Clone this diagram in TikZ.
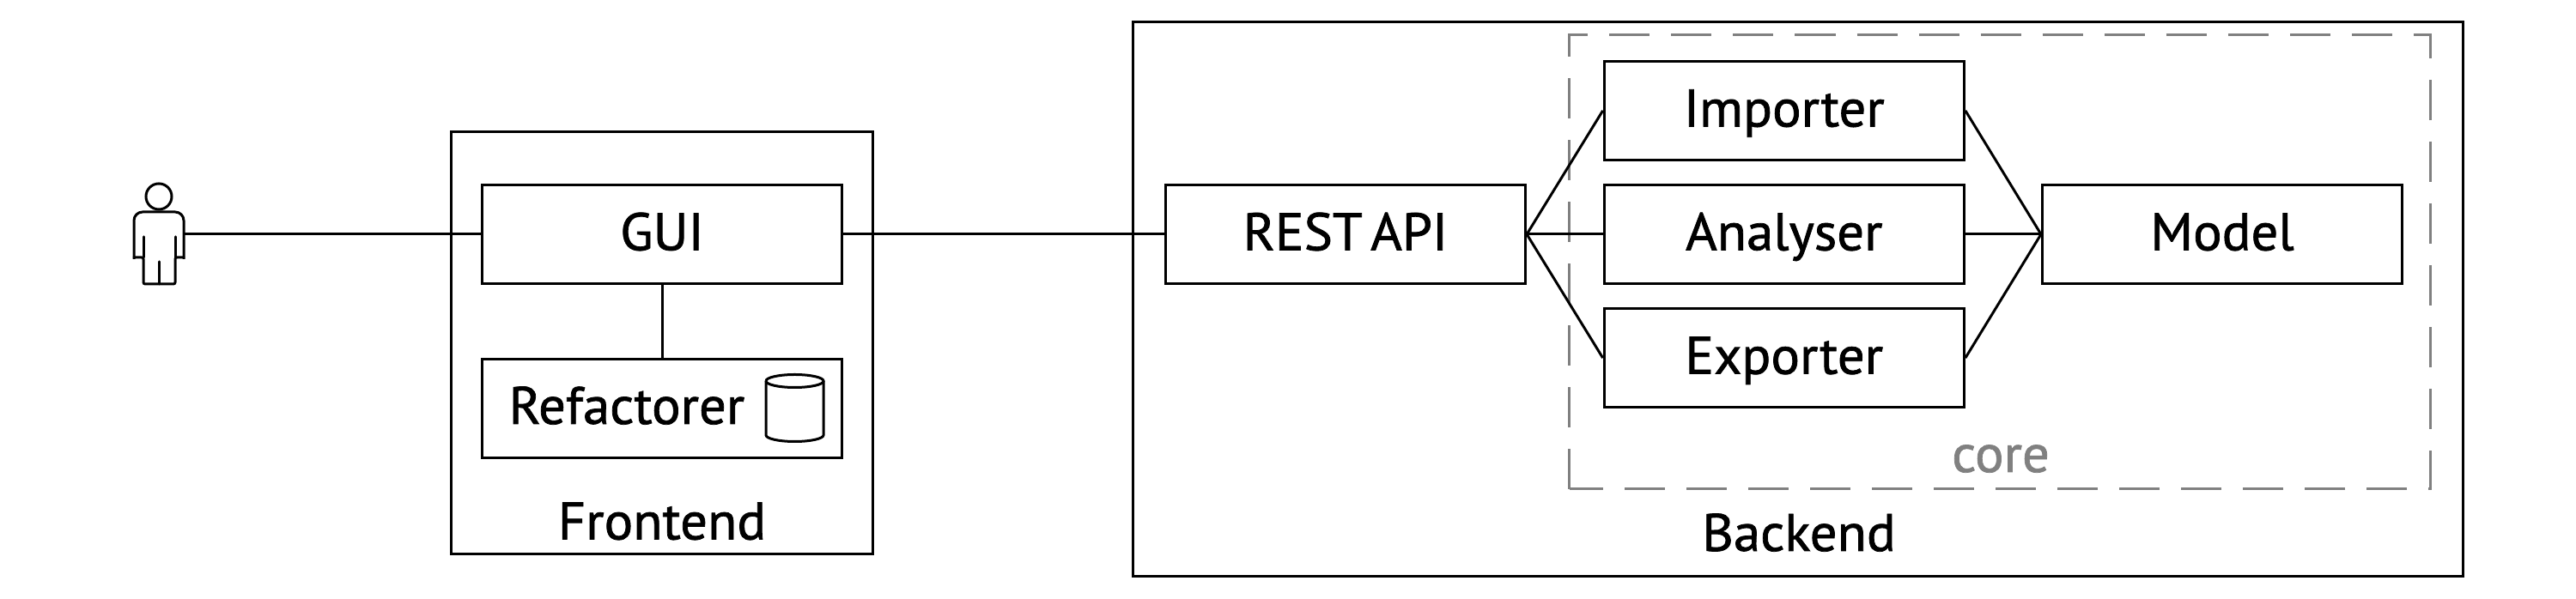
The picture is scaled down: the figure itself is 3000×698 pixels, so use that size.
\documentclass[tikz,border=0pt]{standalone}
\usepackage{fontspec}
\setmainfont[FakeBold=1.2,FakeStretch=1.02]{PT Sans}
\tikzstyle{box} = [draw, line width=0.03cm, minimum width=4.19cm, minimum height=1.15cm, inner sep=0pt, text height=0.37cm, text depth=0pt, font=\fontsize{17.5}{20}\selectfont]
\tikzstyle{caption} = [inner sep=0pt, anchor=base, font=\fontsize{17.5}{20}\selectfont]
\tikzstyle{link} = [line width=0.03cm]

\begin{document}
\begin{tikzpicture}[x=0.01cm, y=0.01cm, line width=0.03cm,
    frame/.style={draw, line width=0.03cm, inner sep=0pt},
    coreline/.style={draw=black!50, line width=0.03cm, dash pattern=on 0.47cm off 0.25cm}]

    \useasboundingbox (0,0) rectangle (3000,-698);

    % Frames
    \node[frame, minimum width=4.9cm, minimum height=4.92cm] (frontend) at (771,-399.5) {};
    \node[frame, minimum width=15.48cm, minimum height=6.45cm] (backend) at (2094,-348.5) {};
    \draw[coreline] (1827.5,-570) rectangle (2830.5,-40.5);

    % Nodes (Boxes)
    \node[box] (gui) at (771,-273) {GUI};
    \node[box] (refactorer) [below of=gui, node distance=2.03cm] {};
    \node[box] (rest) [right of=gui, node distance=7.955cm] {REST\kern-0.12em{} API};
    \node[box] (analyser) [right of=rest, node distance=5.105cm] {Analyser};
    \node[box] (importer) [above of=analyser, node distance=1.44cm] {Importer};
    \node[box] (exporter) [below of=analyser, node distance=1.44cm] {Exporter};
    \node[box] (model) [right of=analyser, node distance=5.1cm] {Model};

    % Texts
    \node[caption] (refactorertext) at (730,-494) {Refactorer};
    \node[caption] (frontendtext) at (771,-628.5) {Frontend};
    \node[caption] (backendtext) at (2095,-642) {Backend};
    \node[caption, text=black!50] (coretext) at (2330,-550) {core};

    % Store
    \draw[link] (892,-444) arc[start angle=180, end angle=540, x radius=0.335cm, y radius=0.075cm];
    \draw[link] (892,-444) -- (892,-507) arc[start angle=180, end angle=360, x radius=0.335cm, y radius=0.075cm] -- (959,-444);

    % Actor
    \coordinate (actor) at (214,-273);
    \draw[link, line cap=round] (185,-229) circle[radius=0.15cm];
    \draw[link, line join=round, rounded corners=0.1cm] (156,-302) -- (156,-247) -- (214,-247) -- (214,-302);
    \draw[link, line join=round, line cap=round, rounded corners=0.02cm] (156,-300) -- (167,-300) -- (167,-331) -- (204,-331) -- (204,-300) -- (214,-300);
    \draw[link, line cap=round] (167,-276) -- (167,-300);
    \draw[link, line cap=round] (204,-276) -- (204,-300);
    \draw[link, line cap=round] (185,-305) -- (185,-331);

    % Connectors
    \draw[link] (actor) -- (gui);
    \draw[link] (gui) -- (refactorer);
    \draw[link] (gui) -- (rest);
    \draw[link] (rest.east) -- (importer.west);
    \draw[link] (rest.east) -- (analyser.west);
    \draw[link] (rest.east) -- (exporter.west);
    \draw[link] (importer.east) -- (model.west);
    \draw[link] (analyser.east) -- (model.west);
    \draw[link] (exporter.east) -- (model.west);
\end{tikzpicture}
\end{document}
